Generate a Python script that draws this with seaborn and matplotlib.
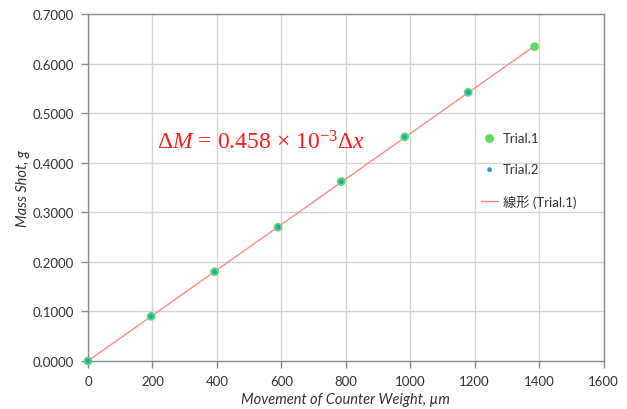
import numpy as np
import pandas as pd
import matplotlib
matplotlib.use("Agg")
import matplotlib.pyplot as plt
import seaborn as sns

# ---- data ----
x_trial1 = [0, 196, 393, 590, 786, 983, 1180, 1386]
y_trial1 = [0.0, 0.090, 0.180, 0.270, 0.362, 0.452, 0.542, 0.634]
x_trial2 = [0, 196, 393, 590, 786, 983, 1180]
y_trial2 = [0.0, 0.090, 0.180, 0.270, 0.362, 0.452, 0.542]
x_ticks = [0, 200, 400, 600, 800, 1000, 1200, 1400, 1600]
y_ticks = [0.0, 0.1, 0.2, 0.3, 0.4, 0.5, 0.6, 0.7]
label1 = "Trial.1"
label2 = "Trial.2"
label_fit = "線形 (Trial.1)"
equation = r"$\mathit{\Delta M}$ = 0.458 × 10$^{\mathregular{-3}}$$\mathit{\Delta x}$"
x_label = "Movement of Counter Weight, µm"
y_label = "Mass Shot, g"

df1 = pd.DataFrame({"x": x_trial1, "y": y_trial1})
df2 = pd.DataFrame({"x": x_trial2, "y": y_trial2})

sns.set_style("white")
plt.rcParams["font.family"] = ["Lato", "Noto Sans CJK JP", "DejaVu Sans"]
plt.rcParams["mathtext.fontset"] = "custom"
plt.rcParams["mathtext.rm"] = "Liberation Serif"
plt.rcParams["mathtext.it"] = "Liberation Serif:italic"

W, H = 627, 410
fig = plt.figure(figsize=(W / 100, H / 100), dpi=100)
ax = fig.add_axes([88 / W, 1 - 362 / H, (603.5 - 88) / W, (362 - 15) / H])

green = "#5fdc5f"
blue = "#1e9be3"
pink = "#ff8a8a"

sns.regplot(data=df1, x="x", y="y", scatter=False, ci=None, ax=ax,
            color=pink, line_kws={"lw": 1.0, "zorder": 2}, label=label_fit)
sns.scatterplot(data=df1, x="x", y="y", ax=ax, color=green, s=40,
                edgecolor="none", zorder=3, label=label1, clip_on=False)
sns.scatterplot(data=df2, x="x", y="y", ax=ax, color=blue, s=12,
                edgecolor="none", zorder=4, label=label2, clip_on=False)

ax.set_xlim(0, 1600)
ax.set_ylim(0, 0.7)
ax.set_xticks(x_ticks)
ax.set_yticks(y_ticks)
ax.set_xticklabels([str(t) for t in x_ticks])
ax.set_yticklabels([f"{t:.4f}" for t in y_ticks])
ax.grid(True, color="#d4d4d4", lw=1.0)
ax.set_axisbelow(True)
for s in ax.spines.values():
    s.set_color("#8c8c8c")
    s.set_linewidth(1.0)
ax.tick_params(axis="both", which="major", direction="out", length=5,
               width=1, color="#8c8c8c", labelsize=9.5, labelcolor="#333333",
               bottom=True, left=True, pad=5)

ax.set_xlabel(x_label, fontsize=10.5, style="italic", color="#333333", labelpad=4)
ax.set_ylabel(y_label, fontsize=10.5, style="italic", color="#333333", labelpad=2)

ax.text(157 / W, 1 - 143 / H, equation, transform=fig.transFigure,
        fontsize=17, color="#ff1a1a", va="center", ha="left",
        family="Liberation Serif")

ax.get_legend().remove() if ax.get_legend() else None
h, l = ax.get_legend_handles_labels()
order = [l.index(label1), l.index(label2), l.index(label_fit)]
fig.legend([h[i] for i in order], [l[i] for i in order],
           loc="upper left", bbox_to_anchor=(481 / W, 1 - 133 / H),
           frameon=False, fontsize=9.5, handlelength=1.3, handletextpad=0.35,
           labelspacing=1.45, borderpad=0, borderaxespad=0,
           labelcolor="#333333")

fig.savefig("out.png", dpi=100)
